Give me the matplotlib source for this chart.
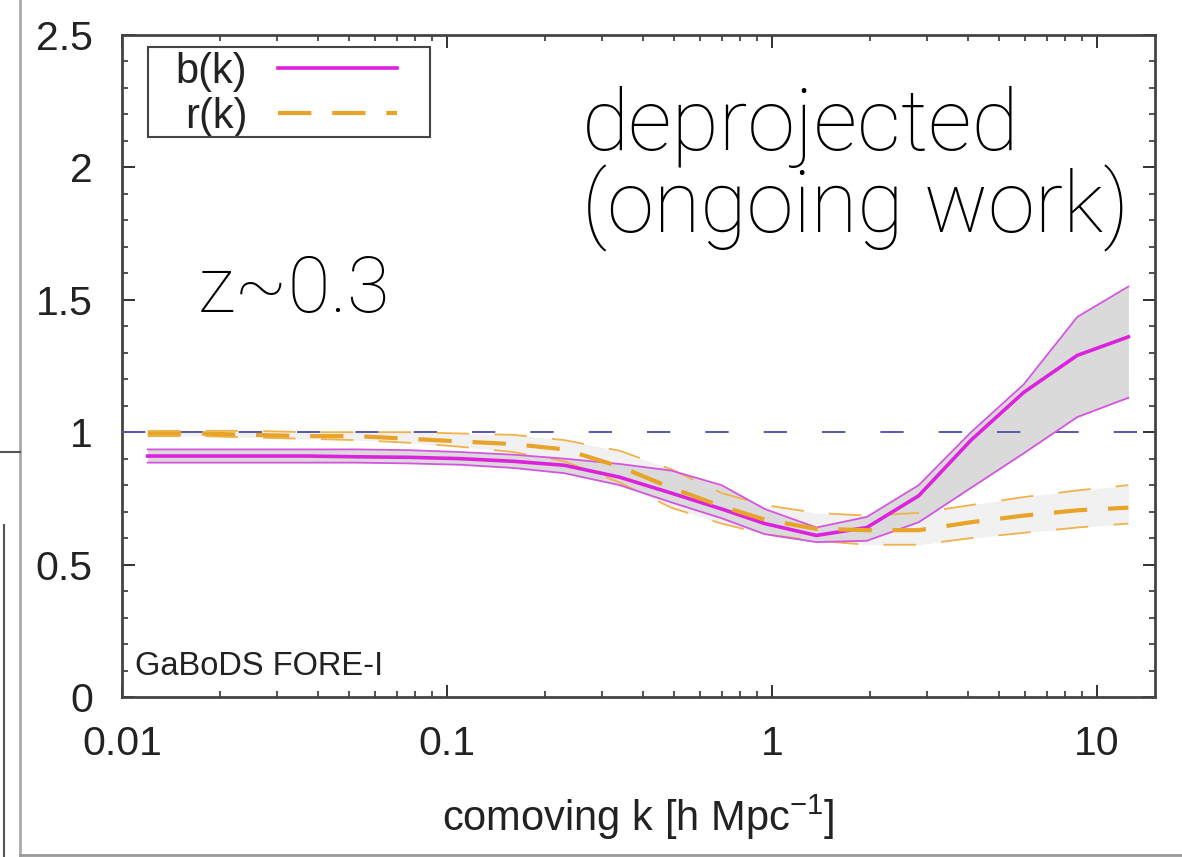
import matplotlib
matplotlib.use("Agg")
import matplotlib.pyplot as plt
from matplotlib.lines import Line2D
from matplotlib.patches import Rectangle
from matplotlib.ticker import FixedLocator, MultipleLocator, LogLocator, NullFormatter

# k grid [h/Mpc] and curves
k = [0.012, 0.0175, 0.025, 0.037, 0.053, 0.077, 0.11, 0.16, 0.23, 0.34,
     0.49, 0.70, 0.95, 1.37, 1.96, 2.83, 4.1, 5.95, 8.7, 12.5]

b_mid = [0.91, 0.91, 0.91, 0.91, 0.907, 0.905, 0.90, 0.89, 0.875, 0.83,
         0.77, 0.71, 0.655, 0.61, 0.64, 0.76, 0.97, 1.15, 1.29, 1.36]
b_hi = [0.935, 0.935, 0.935, 0.935, 0.935, 0.932, 0.925, 0.915, 0.90, 0.88,
        0.855, 0.80, 0.71, 0.64, 0.68, 0.80, 1.00, 1.18, 1.435, 1.55]
b_lo = [0.885, 0.885, 0.885, 0.885, 0.885, 0.882, 0.877, 0.865, 0.845, 0.80,
        0.735, 0.675, 0.615, 0.585, 0.59, 0.66, 0.79, 0.92, 1.057, 1.13]

r_mid = [0.995, 0.995, 0.99, 0.985, 0.985, 0.975, 0.965, 0.955, 0.935, 0.87,
         0.79, 0.72, 0.67, 0.635, 0.63, 0.63, 0.66, 0.685, 0.705, 0.715]
r_hi = [1.005, 1.005, 1.005, 1.0, 1.0, 1.0, 0.995, 0.99, 0.97, 0.93,
        0.86, 0.77, 0.725, 0.695, 0.685, 0.695, 0.725, 0.755, 0.78, 0.80]
r_lo = [0.985, 0.985, 0.98, 0.975, 0.97, 0.96, 0.945, 0.925, 0.89, 0.81,
        0.715, 0.655, 0.615, 0.59, 0.575, 0.575, 0.60, 0.62, 0.64, 0.655]

xticks = [0.01, 0.1, 1, 10]
xticklabels = ["0.01", "0.1", "1", "10"]
yticks = [0, 0.5, 1, 1.5, 2, 2.5]
yticklabels = ["0", "0.5", "1", "1.5", "2", "2.5"]

plt.rcParams["font.family"] = ["Liberation Sans", "DejaVu Sans"]

fig = plt.figure(figsize=(11.82, 8.57), dpi=100)
ax = fig.add_axes([0.1032, 0.1867, 0.8740, 0.7725])

magenta = "#dd22dd"
orange = "#e8a428"

ax.fill_between(k, r_lo, r_hi, color="#f1f1f1", lw=0, zorder=1)
ax.fill_between(k, b_lo, b_hi, color="#dadada", lw=0, zorder=2)

ax.axhline(1, color="#5858b0", lw=1.4, dashes=(12, 18), zorder=3)

ax.plot(k, r_hi, color="#f0b24a", lw=1.3, dashes=(18, 14), zorder=4)
ax.plot(k, r_lo, color="#f0b24a", lw=1.3, dashes=(18, 14), zorder=4)
ax.plot(k, b_hi, color="#d655e0", lw=1.3, zorder=5)
ax.plot(k, b_lo, color="#d655e0", lw=1.3, zorder=5)
ax.plot(k, b_mid, color=magenta, lw=2.6, zorder=6, label="b(k)")
ax.plot(k, r_mid, color=orange, lw=3.0, dashes=(8, 5), zorder=6, label="r(k)")

ax.set_xscale("log")
ax.set_xlim(0.01, 15.1)
ax.set_ylim(0, 2.5)

ax.xaxis.set_major_locator(FixedLocator(xticks))
ax.set_xticklabels(xticklabels)
ax.xaxis.set_minor_locator(LogLocator(base=10, subs=range(2, 10)))
ax.xaxis.set_minor_formatter(NullFormatter())
ax.yaxis.set_major_locator(FixedLocator(yticks))
ax.set_yticklabels(yticklabels)
ax.yaxis.set_minor_locator(MultipleLocator(0.1))

ax.tick_params(which="both", direction="in", top=True, right=True,
               color="#444444", width=1.3)
ax.tick_params(which="major", length=9, labelsize=29.5, colors="#222222")
ax.tick_params(which="minor", length=4.5)
ax.tick_params(axis="y", which="major", pad=21)
ax.tick_params(axis="x", which="major", pad=20)
for s in ax.spines.values():
    s.set_color("#444444")
    s.set_linewidth(2)

ax.set_xlabel("comoving k [h Mpc$^{\\mathregular{-1}}$]", fontsize=30,
              color="#222222")
ax.xaxis.set_label_coords(0.5, -0.145)

# gnuplot-like key: labels on the left, frame drawn by hand
leg = ax.legend(loc="upper left", bbox_to_anchor=(0.052, 0.975), fontsize=30,
                markerfirst=False, handlelength=2.85, handletextpad=0.74,
                borderpad=0, labelspacing=0.12, borderaxespad=0,
                frameon=False)
for t in leg.get_texts():
    t.set_ha("right")
    t.set_color("#222222")
ax.add_patch(Rectangle((0.0252, 0.846), 0.273, 0.136, transform=ax.transAxes,
                       fill=False, edgecolor="#444444", lw=1.5, zorder=7))

big = dict(family=["Roboto", "DejaVu Sans"], fontweight="light", color="black",
           transform=ax.transAxes, va="baseline", ha="left", zorder=8)
ax.text(0.445, 0.826, "deprojected", fontsize=62, **big)
ax.text(0.445, 0.702, "(ongoing work)", fontsize=61, **big)
ax.text(0.073, 0.5816, "z~0.3", fontsize=56, **big)
ax.text(0.0126, 0.033, "GaBoDS FORE-I", fontsize=23.5, color="#222222",
        transform=ax.transAxes, va="baseline", ha="left")

# edges of the neighbouring panel in the screenshot
W, H = 1182.0, 857.0
fig.add_artist(Line2D([20 / W, 20 / W], [0, 1], color="#aaaaaa", lw=2))
fig.add_artist(Line2D([0, 20 / W], [1 - 452 / H, 1 - 452 / H], color="#555555", lw=1.5))
fig.add_artist(Line2D([20 / W, 1], [1 - 855 / H, 1 - 855 / H], color="#999999", lw=2))
fig.add_artist(Line2D([4 / W, 4 / W], [0, 1 - 525 / H], color="#555555", lw=1.5))

fig.savefig("out.png", dpi=100)
